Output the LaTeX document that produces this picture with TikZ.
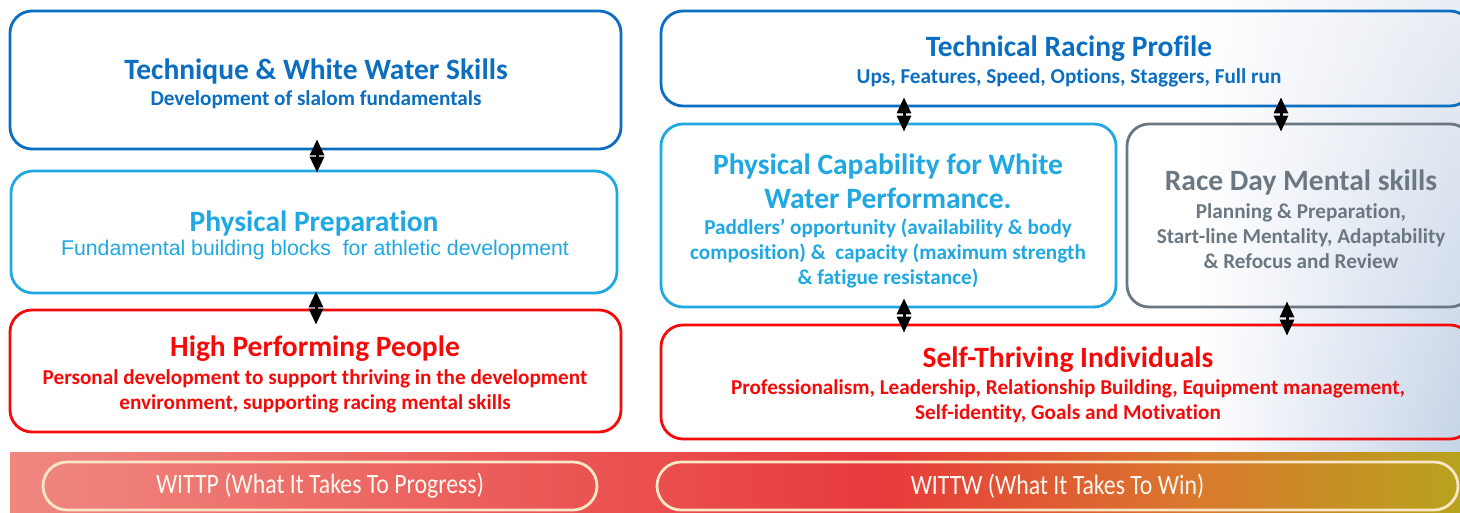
\documentclass[tikz,border=0pt]{standalone}
\usepackage{fontspec}
\setmainfont{Carlito}[RawFeature={-liga;-clig;-calt;-dlig}]
\newfontfamily\arialf{Liberation Sans}
\newfontfamily\condf[FakeStretch=0.85,RawFeature={-liga;-clig;-calt;-dlig}]{Carlito}
\usetikzlibrary{arrows.meta,calc,fadings}
\definecolor{cblue}{HTML}{0B6EC0}
\definecolor{clblue}{HTML}{1FA8E2}
\definecolor{cred}{HTML}{F50A0A}
\definecolor{cgray}{HTML}{6B7882}
\definecolor{bandA}{HTML}{EF8880}
\definecolor{bandB}{HTML}{E83A3C}
\definecolor{bandC}{HTML}{D97A2C}
\definecolor{bandD}{HTML}{B7A31E}
\definecolor{cream}{HTML}{F9E6C6}
\definecolor{skyT}{HTML}{E9EDF3}
\definecolor{skyR}{HTML}{C6D4E8}
\newcommand{\ttlf}{\bfseries\fontsize{29.5}{34}\selectfont}
\newcommand{\subf}{\bfseries\fontsize{21.2}{25}\selectfont}
\tikzset{
  box/.style={draw, line width=2.8pt, rounded corners=22pt, inner sep=0pt},
  ttl/.style={font=\ttlf, align=center, inner sep=0pt, yshift=-2pt},
  stx/.style={font=\subf, align=center, inner sep=0pt, yshift=-1pt},
  dbl/.style={{Triangle[width=14pt,length=16pt]}-{Triangle[width=14pt,length=16pt]}, line width=3pt, black},
  pill/.style={draw=cream, line width=2.8pt, rounded corners=24pt, text=white!75!cream, font=\condf\fontsize{28}{30}\selectfont, inner sep=0pt}
}
\begin{document}
\begin{tikzpicture}[x=1pt,y=-1pt]
\clip (0,0) rectangle (1460,512);
\fill[white] (0,0) rectangle (1460,512);
\shade[top color=skyT, bottom color=skyR, path fading=west] (1200,0) rectangle (1460,452);
% bottom band
\shade[left color=bandA, right color=bandB] (10,452) rectangle (881,512);
\shade[left color=bandB, right color=bandC] (880,452) rectangle (1201,512);
\shade[left color=bandC, right color=bandD] (1200,452) rectangle (1460,512);
% boxes left
\node[box, draw=cblue, minimum width=611pt, minimum height=138pt] (A) at (315.5,80) {};
\node[ttl, text=cblue] (At) at (316,69) {Technique \& White Water Skills};
\node[stx, text=cblue] (As) at (316,99) {Development of slalom fundamentals};
\node[box, draw=clblue, minimum width=606pt, minimum height=122pt] (B) at (314,232) {};
\node[ttl, text=clblue] (Bt) at (314,221) {Physical Preparation};
\node[inner sep=0pt, text=clblue, font=\arialf\fontsize{21.3}{25}\selectfont, yshift=-1pt] (Bs) at (315,249) {Fundamental building blocks\ \ for athletic development};
\node[box, draw=cred, minimum width=611pt, minimum height=122pt] (C) at (315.5,371) {};
\node[ttl, text=cred] (Ct) at (315,347) {High Performing People};
\node[stx, text=cred] (Cs) at (315,390) {Personal development to support thriving in the development\\environment, supporting racing mental skills};
% boxes right
\node[box, draw=cblue, minimum width=811pt, minimum height=95pt] (D) at (1066.5,58.5) {};
\node[ttl, text=cblue] (Dt) at (1069,47) {Technical Racing Profile};
\node[stx, text=cblue] (Ds) at (1069,77) {Ups, Features, Speed, Options, Staggers, Full run};
\node[box, draw=clblue, minimum width=455pt, minimum height=183pt] (E) at (888.5,215.5) {};
\node[ttl, text=clblue] (Et) at (888,179) {Physical Capability for White\\Water Performance.};
\node[stx, text=clblue] (Es) at (888,252) {Paddlers' opportunity (availability \& body\\composition) \&\ \ capacity (maximum strength\\\& fatigue resistance)};
\node[box, draw=cgray, minimum width=345pt, minimum height=183pt] (F) at (1299.5,215.5) {};
\node[ttl, text=cgray] (Ft) at (1301,180) {Race Day Mental skills};
\node[stx, text=cgray] (Fs) at (1301,235) {Planning \& Preparation,\\Start-line Mentality, Adaptability\\\& Refocus and Review};
\node[box, draw=cred, minimum width=811pt, minimum height=114pt] (G) at (1066.5,382) {};
\node[ttl, text=cred] (Gt) at (1068,358) {Self-Thriving Individuals};
\node[stx, text=cred] (Gs) at (1068,400.5) {Professionalism, Leadership, Relationship Building, Equipment management,\\Self-identity, Goals and Motivation};
% pills
\node[pill, minimum width=554pt, minimum height=48pt] (P1) at (320,486) {WITTP (What It Takes To Progress)};
\node[pill, minimum width=801pt, minimum height=48pt] (P2) at (1057.5,486) {WITTW (What It Takes To Win)};
% arrows
\draw[dbl, shorten <=-11pt, shorten >=-3pt] ($(A.south)+(1.5,0)$) -- ($(B.north)+(3,0)$);
\draw[dbl, shorten <=-3pt, shorten >=-16pt] ($(B.south)+(2,0)$) -- ($(C.north)+(0.5,0)$);
\draw[dbl, shorten <=-10pt, shorten >=-9pt] ($(D.south)+(-162.5,0)$) -- ($(E.north)+(15.5,0)$);
\draw[dbl, shorten <=-10pt, shorten >=-9pt] ($(D.south)+(214.5,0)$) -- ($(F.north)+(-18.5,0)$);
\draw[dbl, shorten <=-10pt, shorten >=-9pt] ($(E.south)+(15.5,0)$) -- ($(G.north)+(-162.5,0)$);
\draw[dbl, shorten <=-7pt, shorten >=-12pt] ($(F.south)+(-12.5,0)$) -- ($(G.north)+(220.5,0)$);
\end{tikzpicture}
\end{document}
